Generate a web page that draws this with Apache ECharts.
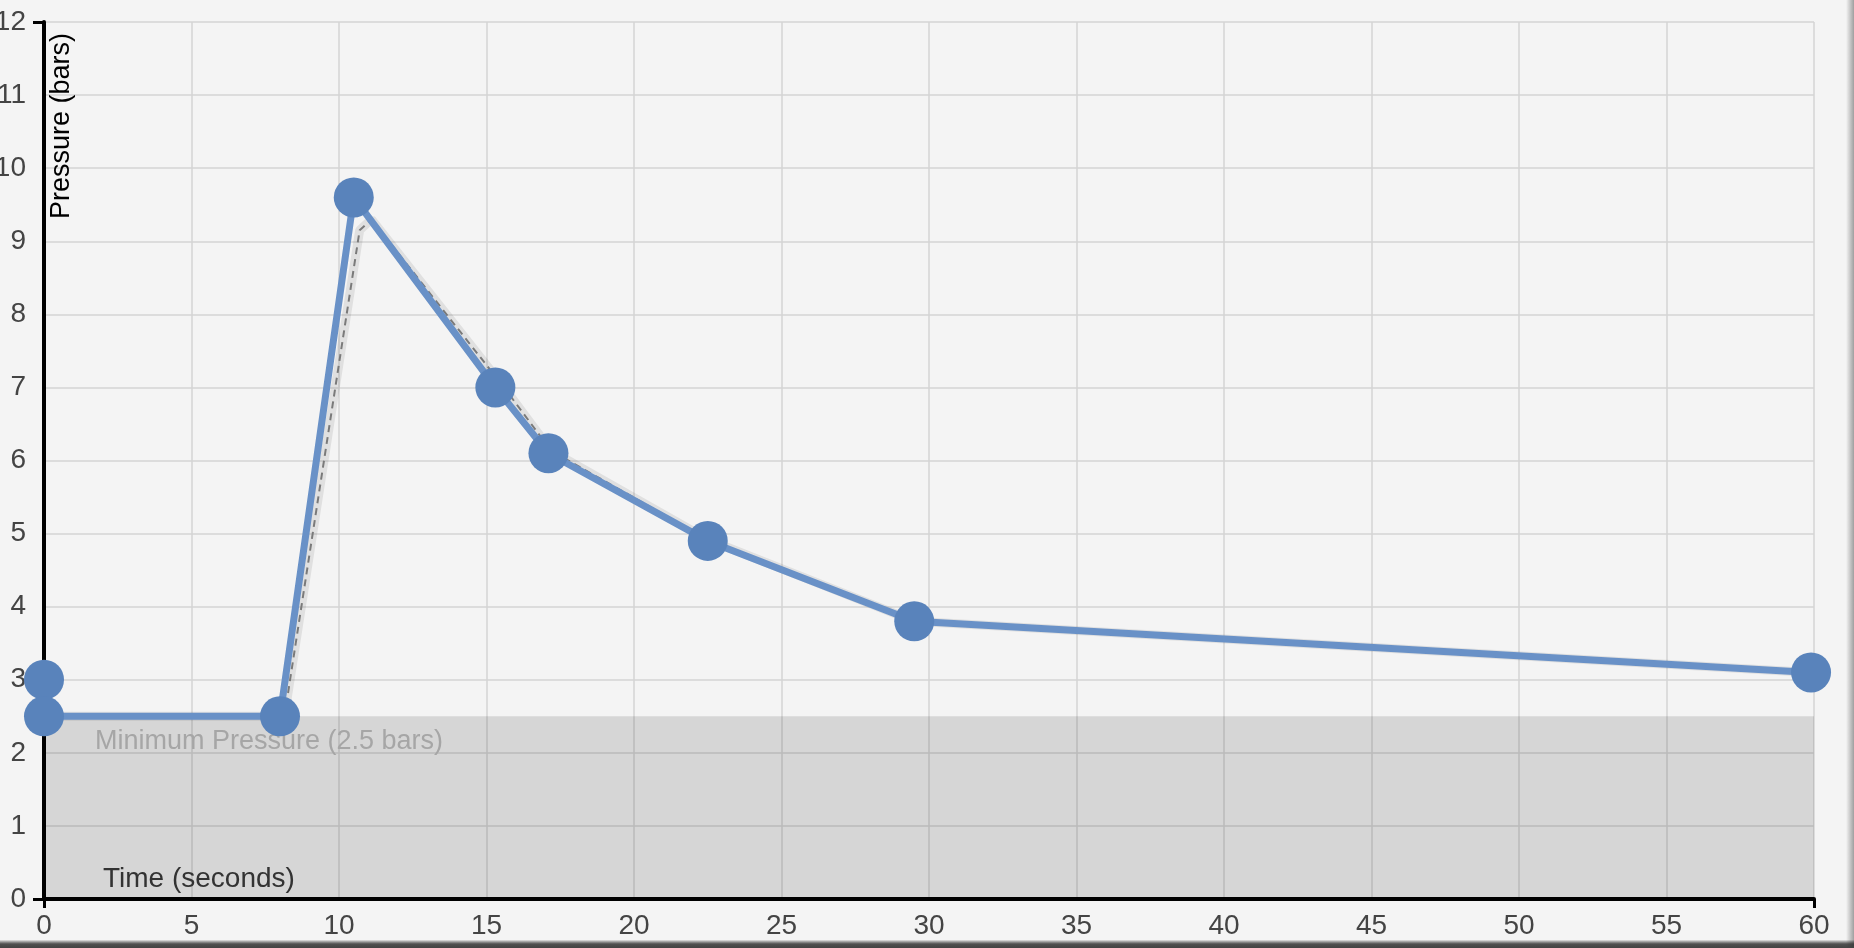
<!DOCTYPE html>
<html>
<head>
<meta charset="utf-8">
<script src="https://cdn.jsdelivr.net/npm/echarts@6/dist/echarts.min.js"></script>
<style>
html,body{margin:0;padding:0;background:#f4f4f4;}
#chart{width:1854px;height:948px;}
</style>
</head>
<body>
<div id="chart"></div>
<script>
// ---- data ----
const times = [0, 0, 8, 10.5, 15.3, 17.1, 22.5, 29.5, 59.9];
const pressures = [3, 2.5, 2.5, 9.6, 7.0, 6.1, 4.9, 3.8, 3.1];
// faint dashed reference trace (slightly offset from the main line)
const traceTimes = [0, 8.15, 10.7, 11.1, 15.5, 17.2, 22.5, 29.5, 59.9];
const tracePressures = [2.5, 2.5, 9.15, 9.3, 7.05, 6.13, 4.92, 3.8, 3.1];
const minPressure = 2.5;
const minLabel = 'Minimum Pressure (2.5 bars)';
const xName = 'Time (seconds)';
const yName = 'Pressure (bars)';
const xMin = 0, xMax = 60, xStep = 5;
const yMin = 0, yMax = 12, yStep = 1;

const mainData = times.map((t, i) => [t, pressures[i]]);
const traceData = traceTimes.map((t, i) => [t, tracePressures[i]]);

const FONT = '"Liberation Sans", Arial, Helvetica, sans-serif';
const chart = echarts.init(document.getElementById('chart'), null, {renderer: 'canvas'});

const baseX = {type: 'value', min: xMin, max: xMax, interval: xStep, gridIndex: 0};
const baseY = {type: 'value', min: yMin, max: yMax, interval: yStep, gridIndex: 0};

chart.setOption({
  animation: false,
  backgroundColor: '#f4f4f4',
  grid: {left: 44, right: 40, top: 22, bottom: 49, containLabel: false, outerBoundsMode: 'none'},
  xAxis: [
    Object.assign({}, baseX, {
      position: 'bottom',
      axisLine: {show: true, onZero: false, lineStyle: {color: '#000', width: 4}},
      axisTick: {show: false},
      axisLabel: {color: '#444', fontSize: 28, fontFamily: FONT, margin: 13},
      splitLine: {show: true, lineStyle: {color: '#d4d4d4', width: 1.5}}
    }),
    Object.assign({}, baseX, {
      position: 'bottom', offset: 0,
      axisLine: {show: false, onZero: false},
      axisTick: {show: true, customValues: [xMin, xMax], length: 9, lineStyle: {color: '#000', width: 3}},
      axisLabel: {show: false},
      splitLine: {show: false}
    })
  ],
  yAxis: [
    Object.assign({}, baseY, {
      position: 'left',
      axisLine: {show: true, onZero: false, lineStyle: {color: '#000', width: 4}},
      axisTick: {show: false},
      axisLabel: {color: '#444', fontSize: 28, fontFamily: FONT, margin: 18},
      splitLine: {show: true, lineStyle: {color: '#d4d4d4', width: 1.5}}
    }),
    Object.assign({}, baseY, {
      position: 'left', offset: 0,
      axisLine: {show: false, onZero: false},
      axisTick: {show: true, customValues: [yMin, yMax], length: 11, lineStyle: {color: '#000', width: 3}},
      axisLabel: {show: false},
      splitLine: {show: false}
    })
  ],
  series: [
    {
      type: 'line', name: 'band', data: [], silent: true, z: 1,
      markArea: {
        silent: true,
        itemStyle: {color: 'rgba(0,0,0,0.12)'},
        label: {show: true, position: 'insideTopLeft', offset: [46, 7], color: '#a6a6a6',
          fontSize: 27, fontFamily: FONT},
        data: [[{yAxis: yMin, name: minLabel}, {yAxis: minPressure}]]
      }
    },
    {
      type: 'line', name: 'traceShade', data: traceData, silent: true, z: 2,
      symbol: 'none',
      lineStyle: {color: 'rgba(0,0,0,0.08)', width: 9}
    },
    {
      type: 'line', name: 'trace', data: traceData, silent: true, z: 3,
      symbol: 'none',
      lineStyle: {color: '#7a7a7a', width: 2, type: [7, 5]}
    },
    {
      type: 'line', name: 'pressure', data: mainData, z: 5,
      symbol: 'circle', symbolSize: 40,
      itemStyle: {color: '#5983bb', borderWidth: 0},
      lineStyle: {color: '#6991c7', width: 7},
      emphasis: {disabled: true}
    }
  ],
  graphic: [
    {type: 'text', x: 62, y: 126, rotation: Math.PI / 2, z: 20,
      style: {text: yName, font: '27px ' + FONT, fill: '#000',
        align: 'center', verticalAlign: 'middle', textAlign: 'center', textVerticalAlign: 'middle'}},
    {type: 'text', x: 103, y: 879, z: 20,
      style: {text: xName, font: '28px ' + FONT, fill: '#333',
        align: 'left', verticalAlign: 'middle', textAlign: 'left', textVerticalAlign: 'middle'}},
    {type: 'rect', shape: {x: 1846, y: 0, width: 8, height: 948}, z: 30, silent: true,
      style: {fill: new echarts.graphic.LinearGradient(0, 0, 1, 0, [
        {offset: 0, color: 'rgba(0,0,0,0)'}, {offset: 1, color: 'rgba(0,0,0,0.35)'}])}},
    {type: 'rect', shape: {x: 0, y: 940, width: 1854, height: 8}, z: 30, silent: true,
      style: {fill: new echarts.graphic.LinearGradient(0, 0, 0, 1, [
        {offset: 0, color: 'rgba(0,0,0,0.05)'}, {offset: 0.5, color: 'rgba(40,40,40,0.8)'}, {offset: 1, color: '#444'}])}}
  ]
});
</script>
</body>
</html>
